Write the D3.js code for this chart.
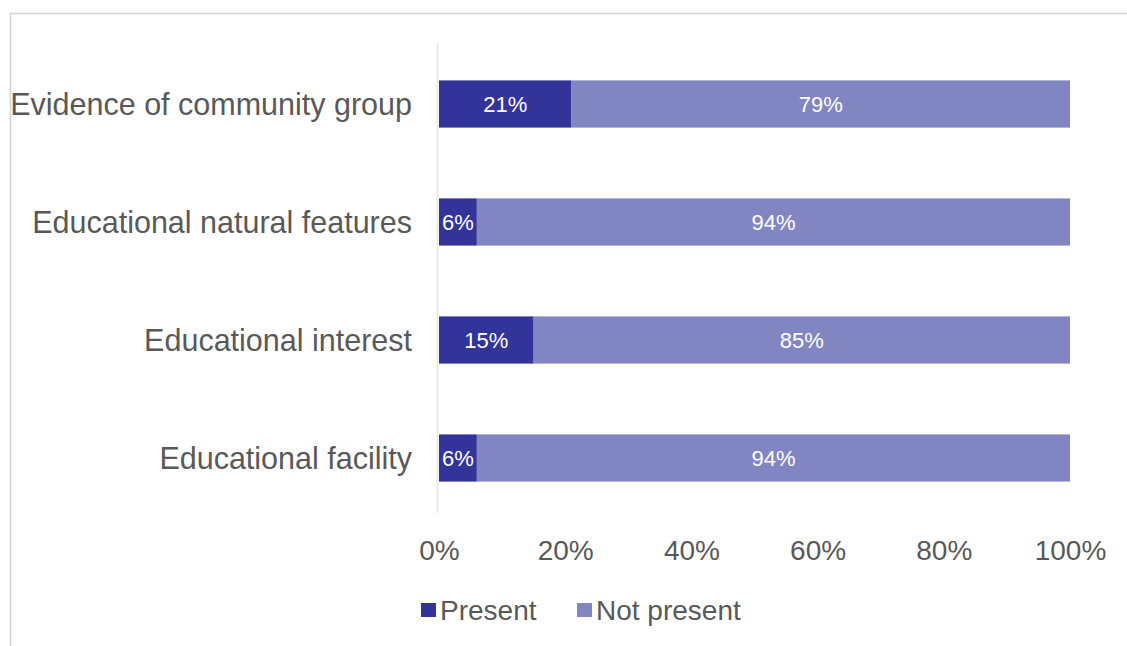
<!DOCTYPE html>
<html>
<head>
<meta charset="utf-8">
<script src="https://cdn.jsdelivr.net/npm/d3@7"></script>
<style>
  html, body { margin: 0; padding: 0; background: #fff; }
  svg { display: block; font-family: "Liberation Sans", Arial, sans-serif; }
</style>
</head>
<body>
<svg id="chart" width="1127" height="646"></svg>
<script>
// Survey categories, top to bottom
const categories = [
  "Evidence of community group",
  "Educational natural features",
  "Educational interest",
  "Educational facility"
];
// Share of sites (%) where each feature was present / not present
const present = [21, 6, 15, 6];
const notPresent = [79, 94, 85, 94];
const seriesNames = ["Present", "Not present"];
const tickValues = [0, 20, 40, 60, 80, 100];

const colors = { "Present": "#33349a", "Not present": "#8186c3" };

const svg = d3.select("#chart");
const W = 1127, H = 646;

// Frame lines (top and left)
svg.append("line").attr("x1", 10).attr("x2", W).attr("y1", 13.5).attr("y2", 13.5)
  .attr("stroke", "#d4d4d4").attr("stroke-width", 1.5);
svg.append("line").attr("x1", 10.5).attr("x2", 10.5).attr("y1", 13).attr("y2", H)
  .attr("stroke", "#d4d4d4").attr("stroke-width", 1.5);

const x = d3.scaleLinear().domain([0, 100]).range([439, 1070]);
const y = d3.scaleBand().domain(categories).range([45, 517]).paddingInner(0.6).paddingOuter(0.3);

// Category axis line
svg.append("line").attr("x1", 437.5).attr("x2", 437.5).attr("y1", 42).attr("y2", 513)
  .attr("stroke", "#e6e6e6").attr("stroke-width", 1.5);

const rows = categories.map((c, i) => ({ cat: c, vals: [present[i], notPresent[i]] }));
const stacked = d3.stack().keys([0, 1]).value((d, k) => d.vals[k])(rows);

stacked.forEach((layer, li) => {
  const g = svg.append("g");
  g.selectAll("rect").data(layer).join("rect")
    .attr("x", d => x(d[0]))
    .attr("width", d => x(d[1]) - x(d[0]))
    .attr("y", d => y(d.data.cat))
    .attr("height", y.bandwidth())
    .attr("fill", colors[seriesNames[li]]);
  g.selectAll("text").data(layer).join("text")
    .attr("x", d => (x(d[0]) + x(d[1])) / 2)
    .attr("y", d => y(d.data.cat) + y.bandwidth() / 2)
    .attr("dy", "0.36em")
    .attr("text-anchor", "middle")
    .attr("fill", "#ffffff")
    .attr("font-size", 22)
    .text(d => (d[1] - d[0]) + "%");
});

// Category labels
svg.append("g").selectAll("text").data(categories).join("text")
  .attr("x", 412)
  .attr("y", c => y(c) + y.bandwidth() / 2)
  .attr("dy", "0.36em")
  .attr("text-anchor", "end")
  .attr("fill", "#595959")
  .attr("font-size", 30.5)
  .text(c => c);

// Value axis
const xAxis = d3.axisBottom(x).tickValues(tickValues).tickSize(0).tickPadding(0)
  .tickFormat(d => d + "%");
const ax = svg.append("g").attr("transform", "translate(0,550)").call(xAxis);
ax.select(".domain").remove();
ax.selectAll("text").attr("font-size", 28).attr("fill", "#595959")
  .attr("font-family", "Liberation Sans, Arial, sans-serif")
  .attr("dy", "0.36em").attr("y", 0);

// Legend
const legend = [
  { name: seriesNames[0], x: 421 },
  { name: seriesNames[1], x: 577 }
];
const lg = svg.append("g");
legend.forEach(l => {
  lg.append("rect").attr("x", l.x).attr("y", 603).attr("width", 15).attr("height", 14)
    .attr("fill", colors[l.name]);
  lg.append("text").attr("x", l.x + 19).attr("y", 610).attr("dy", "0.36em")
    .attr("font-size", 28).attr("fill", "#595959").text(l.name);
});
</script>
</body>
</html>
